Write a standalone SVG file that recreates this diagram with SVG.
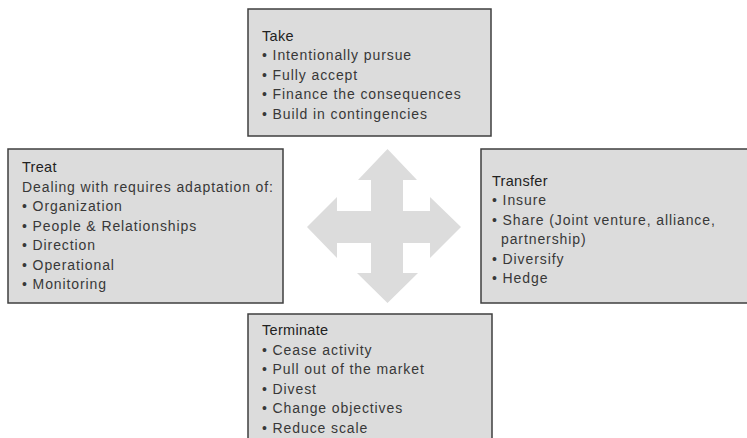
<svg xmlns="http://www.w3.org/2000/svg" width="747" height="438" viewBox="0 0 747 438">
  <style>
    .box { fill: #dcdcdc; stroke: #3f3f3f; stroke-width: 1.5; }
    .title { font-family: "Liberation Sans", Arial, sans-serif; font-size: 14.5px; fill: #222; letter-spacing: 0.3px; }
    .item { font-family: "Liberation Sans", Arial, sans-serif; font-size: 14px; fill: #383838; letter-spacing: 0.9px; }
    .cross { fill: #dcdcdc; }
  </style>
  <rect width="747" height="438" fill="#ffffff"/>

  <g id="arrows">
    <path class="cross" d="M387.5 149 L417 180 L403 180 L403 211 L430 211 L430 197 L461 227 L430 258 L430 243 L403 243 L403 273 L418 273 L387.5 303 L357 273 L371 273 L371 243 L337 243 L337 258 L307 227 L337 197 L337 211 L371 211 L371 180 L358 180 Z"/>
  </g>

  <g id="take">
    <rect class="box" x="248" y="9" width="243" height="127"/>
    <text class="title" x="262" y="40.7">Take</text>
    <text class="item" x="262" y="60.2">• Intentionally pursue</text>
    <text class="item" x="262" y="79.7">• Fully accept</text>
    <text class="item" x="262" y="99.2">• Finance the consequences</text>
    <text class="item" x="262" y="118.7">• Build in contingencies</text>
  </g>

  <g id="treat">
    <rect class="box" x="8" y="149" width="275" height="154"/>
    <text class="title" x="22" y="172.3">Treat</text>
    <text class="item" x="22" y="191.8">Dealing with requires adaptation of:</text>
    <text class="item" x="22" y="211.3">• Organization</text>
    <text class="item" x="22" y="230.8">• People &amp; Relationships</text>
    <text class="item" x="22" y="250.3">• Direction</text>
    <text class="item" x="22" y="269.8">• Operational</text>
    <text class="item" x="22" y="289.3">• Monitoring</text>
  </g>

  <g id="transfer">
    <rect class="box" x="481" y="149" width="270" height="154"/>
    <text class="title" x="492" y="185.8">Transfer</text>
    <text class="item" x="492" y="205.3">• Insure</text>
    <text class="item" x="492" y="224.8">• Share (Joint venture, alliance,</text>
    <text class="item" x="501" y="244.3">partnership)</text>
    <text class="item" x="492" y="263.8">• Diversify</text>
    <text class="item" x="492" y="283.3">• Hedge</text>
  </g>

  <g id="terminate">
    <rect class="box" x="248" y="314" width="244" height="130"/>
    <text class="title" x="262" y="335">Terminate</text>
    <text class="item" x="262" y="354.5">• Cease activity</text>
    <text class="item" x="262" y="374">• Pull out of the market</text>
    <text class="item" x="262" y="393.5">• Divest</text>
    <text class="item" x="262" y="413">• Change objectives</text>
    <text class="item" x="262" y="432.5">• Reduce scale</text>
  </g>
</svg>
